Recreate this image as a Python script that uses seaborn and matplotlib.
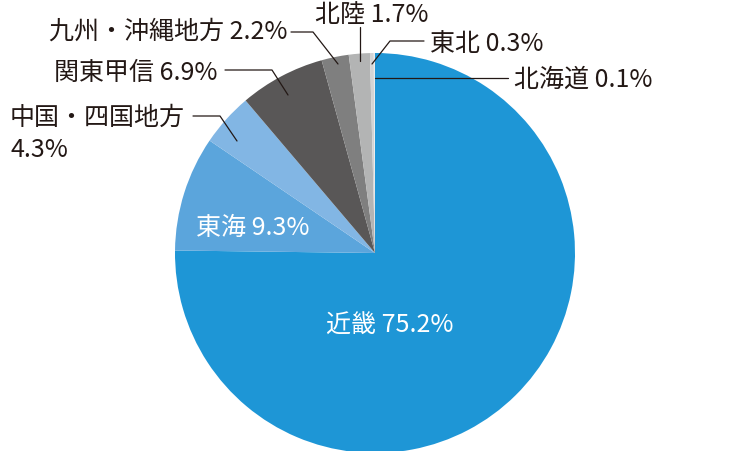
import matplotlib
matplotlib.use("Agg")
import matplotlib.pyplot as plt
import seaborn as sns

sns.set_theme(style="white")
plt.rcParams['font.family'] = ['Noto Sans CJK JP', 'DejaVu Sans']

# データ
regions = ['近畿', '東海', '中国・四国地方', '関東甲信', '九州・沖縄地方', '北陸', '東北', '北海道']
shares = [75.2, 9.3, 4.3, 6.9, 2.2, 1.7, 0.3, 0.1]
labels = ['近畿 75.2%', '東海 9.3%', '中国・四国地方\n4.3%', '関東甲信 6.9%',
          '九州・沖縄地方 2.2%', '北陸 1.7%', '東北 0.3%', '北海道 0.1%']
colors = ['#1e96d6', '#5ba5dc', '#82b6e4', '#595757', '#7f7f7f', '#b3b4b4', '#d4d4d4', '#ebebeb']

W, H = 753, 452
fig = plt.figure(figsize=(W / 100, H / 100), dpi=100)
ax = fig.add_axes([0, 0, 1, 1])
ax.set_xlim(0, W)
ax.set_ylim(0, H)
ax.set_aspect('equal')
ax.axis('off')

cx, cy, r = 375, H - 254, 200
ax.pie(shares, colors=colors, startangle=90, counterclock=False,
       center=(cx, cy), radius=r, frame=True,
       wedgeprops={'linewidth': 0})
ax.set_xlim(0, W)
ax.set_ylim(0, H)
ax.axis('off')


def y(v):
    return H - v


fs = 18
# 内側ラベル
ax.text(390, y(326), labels[0], color='white', fontsize=fs, ha='center', va='center')
ax.text(253, y(228), labels[1], color='white', fontsize=fs, ha='center', va='center')

# 外側ラベルと引き出し線
lc = dict(color='#231815', lw=0.9)
ax.text(10, y(118), '中国・四国地方', fontsize=fs, ha='left', va='center', color='#231815')
ax.text(10, y(150), '4.3%', fontsize=fs, ha='left', va='center', color='#231815')
ax.plot([193, 220, 237], [y(117), y(117), y(142)], **lc)

ax.text(218, y(73), labels[3], fontsize=fs, ha='right', va='center', color='#231815')
ax.plot([225, 272, 288], [y(71), y(71), y(96)], **lc)

ax.text(288, y(32), labels[4], fontsize=fs, ha='right', va='center', color='#231815')
ax.plot([291, 313, 338], [y(33), y(33), y(65)], **lc)

ax.text(372, y(15), labels[5], fontsize=fs, ha='center', va='center', color='#231815')
ax.plot([360, 360], [y(28), y(62)], **lc)

ax.text(430, y(44), labels[6], fontsize=fs, ha='left', va='center', color='#231815')
ax.plot([424, 390, 372], [y(42), y(42), y(65)], **lc)

ax.text(514, y(80), labels[7], fontsize=fs, ha='left', va='center', color='#231815')
ax.plot([375, 508], [y(79), y(79)], **lc)

fig.savefig('out.png', dpi=100)
